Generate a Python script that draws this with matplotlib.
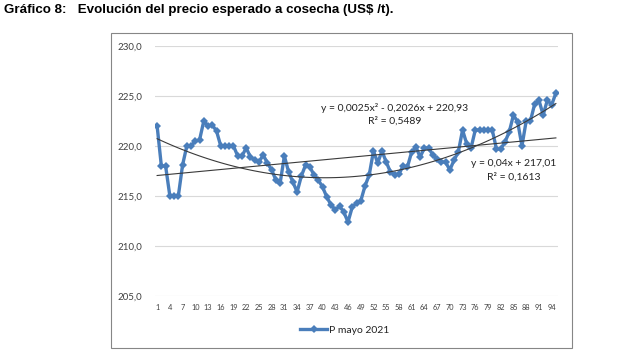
import matplotlib
matplotlib.use("Agg")
import matplotlib.pyplot as plt
from matplotlib.patches import Rectangle
from matplotlib.ticker import FuncFormatter
import numpy as np

# weekly expected harvest price, US$/t
precio = [
    222.0, 218.0, 218.0, 215.0, 215.0, 215.0, 218.1, 220.0, 220.0, 220.5,
    220.6, 222.5, 222.0, 222.1, 221.5, 220.0, 220.0, 220.0, 220.0, 219.0,
    219.0, 219.8, 218.9, 218.6, 218.4, 219.1, 218.3, 217.6, 216.6, 216.3,
    219.0, 217.4, 216.4, 215.4, 217.0, 218.1, 217.9, 217.1, 216.6, 215.9,
    214.9, 214.1, 213.6, 214.0, 213.4, 212.4, 213.9, 214.3, 214.5, 216.0,
    217.1, 219.5, 218.3, 219.5, 218.4, 217.4, 217.1, 217.2, 218.0, 217.9,
    219.4, 219.9, 218.9, 219.8, 219.8, 219.1, 218.7, 218.4, 218.4, 217.6,
    218.6, 219.4, 221.6, 220.2, 219.8, 221.6, 221.6, 221.6, 221.6, 221.6,
    219.7, 219.7, 220.4, 221.4, 223.1, 222.4, 220.0, 222.5, 222.5, 224.2,
    224.6, 223.1, 224.6, 224.1, 225.3,
]
semanas = list(range(1, len(precio) + 1))

# trendline coefficients as printed on the chart
coef_poly = [0.0025, -0.2026, 220.93]
coef_lin = [0.04, 217.01]

y_ticks = [205.0, 210.0, 215.0, 220.0, 225.0, 230.0]
x_ticks = list(range(1, 95, 3))

serie_color = "#4a7ebb"
grid_color = "#d9d9d9"
text_color = "#404040"

fig = plt.figure(figsize=(6.39, 3.59), dpi=100)

# chart frame
fig.patches.append(Rectangle((111 / 639, 1 - 348 / 359), 461 / 639, 315 / 359,
                             transform=fig.transFigure, fill=False,
                             edgecolor="#868686", linewidth=0.8))

fig.text(4 / 639, 1 - 10 / 359,
         "Gráfico 8:   Evolución del precio esperado a cosecha (US$ /t).",
         fontsize=9.6, fontweight="bold", family="Liberation Sans",
         ha="left", va="center")

ax = fig.add_axes([155 / 639, 63 / 359, 403 / 639, 250 / 359])

ax.plot(semanas, precio, color=serie_color, linewidth=2.4, marker="D",
        markersize=4.5, markeredgewidth=0, label="P mayo 2021", zorder=3)

xs = np.array(semanas, dtype=float)
ax.plot(xs, np.polyval(coef_poly, xs), color="#3a3a3a", linewidth=0.8, zorder=4)
ax.plot(xs, np.polyval(coef_lin, xs), color="#3a3a3a", linewidth=0.8, zorder=4)

ax.set_xlim(0.5, len(precio) + 0.5)
ax.set_ylim(205, 230)
ax.set_yticks(y_ticks)
ax.yaxis.set_major_formatter(FuncFormatter(lambda v, p: f"{v:.1f}".replace(".", ",")))
ax.set_xticks(x_ticks)
ax.set_xticklabels([str(t) for t in x_ticks])
ax.tick_params(axis="y", length=0, pad=9, labelsize=7, labelcolor=text_color)
ax.tick_params(axis="x", length=0, pad=6, labelsize=5.3, labelcolor=text_color)
for lab in ax.get_xticklabels() + ax.get_yticklabels():
    lab.set_family("Lato")

ax.grid(axis="y", color=grid_color, linewidth=0.8)
ax.set_axisbelow(True)
for s in ax.spines.values():
    s.set_visible(False)

fig.text(395 / 639, 1 - 108 / 359, "y = 0,0025x² - 0,2026x + 220,93",
         ha="center", va="center", fontsize=7.5, family="Lato", color="#222222")
fig.text(395 / 639, 1 - 121 / 359, "R² = 0,5489",
         ha="center", va="center", fontsize=7.5, family="Lato", color="#222222")
fig.text(514 / 639, 1 - 164 / 359, "y = 0,04x + 217,01",
         ha="center", va="center", fontsize=7.5, family="Lato", color="#222222")
fig.text(514 / 639, 1 - 177.5 / 359, "R² = 0,1613",
         ha="center", va="center", fontsize=7.5, family="Lato", color="#222222")

fig.legend(loc="center", bbox_to_anchor=(345 / 639, 1 - 330 / 359),
           frameon=False, prop={"family": "Lato", "size": 7.5},
           handlelength=2.6, handletextpad=0.2, labelcolor="#222222")

fig.savefig("out.png", dpi=100)
